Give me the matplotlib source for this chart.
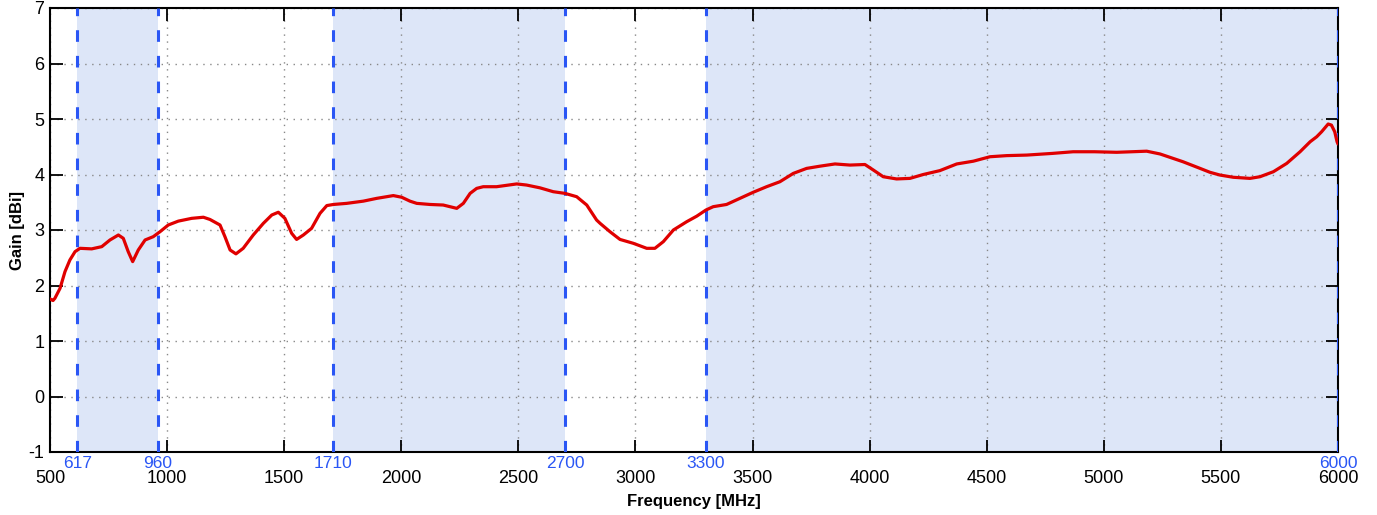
import matplotlib
matplotlib.use("Agg")
import matplotlib.pyplot as plt
import matplotlib.transforms as mtransforms

plt.rcParams['font.family'] = ['Liberation Sans', 'DejaVu Sans']
plt.rcParams['axes.unicode_minus'] = False

# gain curve
freq = [500, 507, 513, 521, 543, 564, 585, 607, 628, 678, 721, 756, 792, 813, 834,
        853, 877, 906, 941, 970, 1005, 1048, 1105, 1155, 1183, 1226, 1247, 1269, 1294,
        1325, 1368, 1411, 1447, 1475, 1503, 1532, 1553, 1582, 1617, 1653, 1682, 1710,
        1767, 1838, 1895, 1966, 2002, 2037, 2066, 2123, 2179, 2208, 2237, 2265, 2294,
        2322, 2350, 2407, 2493, 2535, 2592, 2649, 2699, 2749, 2792, 2834, 2849, 2891,
        2934, 2991, 3048, 3083, 3119, 3162, 3219, 3262, 3301, 3332, 3389, 3446, 3503,
        3560, 3617, 3674, 3731, 3788, 3852, 3916, 3980, 4016, 4058, 4115, 4172, 4229,
        4300, 4372, 4443, 4514, 4585, 4671, 4780, 4869, 4960, 5055, 5120, 5183, 5240,
        5338, 5411, 5453, 5496, 5553, 5624, 5667, 5724, 5781, 5838, 5881, 5909, 5930,
        5958, 5972, 5986, 5996, 6000]
gain = [1.76, 1.74, 1.73, 1.77, 1.95, 2.25, 2.46, 2.61, 2.67, 2.66, 2.70, 2.82, 2.91, 2.85, 2.61,
        2.43, 2.64, 2.82, 2.88, 2.97, 3.09, 3.16, 3.21, 3.23, 3.19, 3.09, 2.88, 2.64, 2.57,
        2.67, 2.91, 3.12, 3.27, 3.32, 3.21, 2.94, 2.83, 2.91, 3.03, 3.30, 3.44, 3.46,
        3.48, 3.52, 3.57, 3.62, 3.59, 3.52, 3.48, 3.46, 3.45, 3.42, 3.39, 3.48, 3.66,
        3.75, 3.78, 3.78, 3.83, 3.81, 3.76, 3.69, 3.66, 3.60, 3.45, 3.18, 3.12, 2.97,
        2.83, 2.76, 2.67, 2.67, 2.79, 3.00, 3.15, 3.25, 3.36, 3.42, 3.46, 3.57, 3.68,
        3.78, 3.87, 4.02, 4.11, 4.15, 4.19, 4.17, 4.18, 4.08, 3.96, 3.92, 3.93, 4.00,
        4.07, 4.19, 4.24, 4.32, 4.34, 4.35, 4.38, 4.41, 4.41, 4.40, 4.41, 4.42, 4.37,
        4.23, 4.11, 4.04, 3.99, 3.95, 3.93, 3.96, 4.05, 4.20, 4.41, 4.59, 4.68, 4.77,
        4.91, 4.89, 4.77, 4.59, 4.55]

# frequency bands
band_start = [617, 1710, 3300]
band_end = [960, 2700, 6000]
band_edges = [617, 960, 1710, 2700, 3300, 6000]

x_ticks = [500, 1000, 1500, 2000, 2500, 3000, 3500, 4000, 4500, 5000, 5500, 6000]
y_ticks = [-1, 0, 1, 2, 3, 4, 5, 6, 7]

fig = plt.figure(figsize=(13.77, 5.15), dpi=100)
ax = fig.add_axes([50 / 1377, 1 - 452 / 515, 1288 / 1377, 444 / 515])

for a, b in zip(band_start, band_end):
    ax.axvspan(a, b, color='#dde6f8', zorder=0, lw=0)

ax.grid(True, color='#888888', linestyle=(0, (1, 4)), linewidth=1.0)
ax.set_axisbelow(True)

for e in band_edges:
    ax.axvline(e, color='#2a56f5', linestyle=(0, (3.8, 4.6)), linewidth=2.2, zorder=3)

ax.plot(freq, gain, color='#e00000', linewidth=2.3, zorder=4,
        solid_joinstyle='round', solid_capstyle='round')

ax.set_xlim(500, 6000)
ax.set_ylim(-1, 7)
ax.set_xticks(x_ticks)
ax.set_yticks(y_ticks)
ax.tick_params(axis='both', direction='in', length=9, width=1.3, labelsize=13,
               top=True, right=True)
ax.tick_params(axis='x', pad=13)
ax.tick_params(axis='y', pad=4)
for s in ax.spines.values():
    s.set_linewidth(1.5)

trans = mtransforms.blended_transform_factory(ax.transData, ax.transAxes)
for e in band_edges:
    ax.text(e, -0.008, str(e), transform=trans, ha='center', va='top',
            color='#2a56f5', fontsize=12.5)

ax.set_xlabel('Frequency [MHz]', fontsize=12, fontweight='bold', labelpad=5)
ax.set_ylabel('Gain [dBi]', fontsize=12, fontweight='bold', labelpad=2.5)

fig.savefig('out.png', dpi=100)
